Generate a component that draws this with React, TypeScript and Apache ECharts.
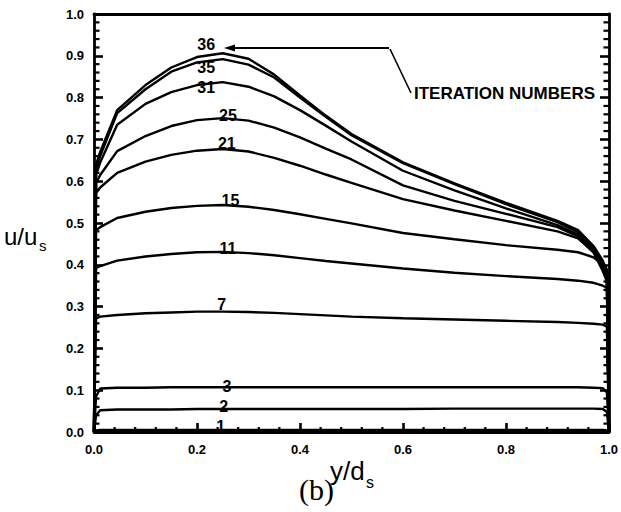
import React, { useEffect, useRef } from "react";
import * as echarts from "echarts";

// Sample positions across the channel (y/d_s)
const Y_POS = [0, 0.004, 0.012, 0.045, 0.1, 0.15, 0.2, 0.25, 0.3, 0.35, 0.4, 0.45, 0.5, 0.6, 0.7, 0.8, 0.9, 0.94, 0.97, 0.988, 0.996, 1];

// Velocity profiles u/u_s after each iteration
const U_IT36 = [0, 0.64, 0.67, 0.77, 0.83, 0.872, 0.897, 0.906, 0.893, 0.855, 0.805, 0.757, 0.713, 0.645, 0.595, 0.548, 0.505, 0.483, 0.445, 0.41, 0.385, 0];
const U_IT35 = [0, 0.63, 0.66, 0.763, 0.82, 0.862, 0.884, 0.892, 0.879, 0.848, 0.8, 0.754, 0.71, 0.643, 0.593, 0.545, 0.502, 0.478, 0.44, 0.405, 0.38, 0];
const U_IT31 = [0, 0.615, 0.645, 0.735, 0.785, 0.813, 0.83, 0.837, 0.826, 0.803, 0.77, 0.733, 0.695, 0.625, 0.578, 0.535, 0.495, 0.472, 0.435, 0.395, 0.37, 0];
const U_IT25 = [0, 0.595, 0.615, 0.672, 0.708, 0.732, 0.746, 0.751, 0.745, 0.728, 0.705, 0.678, 0.652, 0.59, 0.553, 0.522, 0.49, 0.468, 0.43, 0.39, 0.365, 0];
const U_IT21 = [0, 0.572, 0.585, 0.62, 0.647, 0.663, 0.673, 0.677, 0.671, 0.656, 0.637, 0.616, 0.596, 0.557, 0.53, 0.505, 0.48, 0.463, 0.43, 0.385, 0.36, 0];
const U_IT15 = [0, 0.483, 0.49, 0.512, 0.527, 0.536, 0.541, 0.543, 0.539, 0.531, 0.521, 0.51, 0.499, 0.476, 0.461, 0.447, 0.436, 0.43, 0.418, 0.4, 0.39, 0];
const U_IT11 = [0, 0.392, 0.397, 0.41, 0.42, 0.426, 0.43, 0.431, 0.428, 0.423, 0.416, 0.409, 0.403, 0.391, 0.381, 0.373, 0.366, 0.362, 0.357, 0.35, 0.345, 0];
const U_IT7 = [0, 0.272, 0.276, 0.28, 0.284, 0.286, 0.288, 0.288, 0.287, 0.285, 0.282, 0.279, 0.276, 0.272, 0.269, 0.266, 0.263, 0.261, 0.259, 0.257, 0.252, 0];
const U_IT3 = [0, 0.085, 0.104, 0.106, 0.106, 0.107, 0.107, 0.107, 0.107, 0.107, 0.107, 0.107, 0.107, 0.107, 0.107, 0.107, 0.107, 0.107, 0.106, 0.105, 0.095, 0];
const U_IT2 = [0, 0.04, 0.052, 0.054, 0.054, 0.054, 0.055, 0.055, 0.055, 0.055, 0.055, 0.055, 0.055, 0.055, 0.056, 0.056, 0.056, 0.056, 0.056, 0.055, 0.048, 0];
const U_IT1 = [0, 0.004, 0.005, 0.005, 0.005, 0.005, 0.005, 0.005, 0.005, 0.005, 0.005, 0.005, 0.005, 0.005, 0.005, 0.005, 0.005, 0.005, 0.005, 0.005, 0.004, 0];

const PROFILES = [U_IT36, U_IT35, U_IT31, U_IT25, U_IT21, U_IT15, U_IT11, U_IT7, U_IT3, U_IT2, U_IT1];

// Iteration-number tags written beside the profiles
const TAG_TEXT = ["36", "35", "31", "25", "21", "15", "11", "7", "3", "2", "1"];
const TAG_X = [0.218, 0.218, 0.218, 0.26, 0.258, 0.265, 0.26, 0.248, 0.258, 0.252, 0.246];
const TAG_Y = [0.926, 0.873, 0.823, 0.756, 0.689, 0.553, 0.44, 0.304, 0.11, 0.06, 0.014];

// Axis ranges and tick spacing
const AXIS_MIN = 0;
const AXIS_MAX = 1;
const X_MAJOR = 0.2;
const Y_MAJOR = 0.1;
const X_MINOR_DIVS = 5;
const Y_MINOR_DIVS = 5;

const FONT = "Liberation Sans, Arial, Helvetica, sans-serif";

export default function App() {
  const ref = useRef<HTMLDivElement>(null);

  useEffect(() => {
    if (!ref.current) return;
    const chart = echarts.init(ref.current, null, { renderer: "svg" });

    const profileSeries = PROFILES.map((vals, i) => ({
      type: "line",
      name: TAG_TEXT[i],
      data: Y_POS.map((x, k) => [x, vals[k]]),
      showSymbol: false,
      symbol: "none",
      clip: false,
      lineStyle: { color: "#000", width: 2.4 },
      z: 3,
    }));

    const tagSeries = {
      type: "custom",
      coordinateSystem: "cartesian2d",
      data: TAG_X.map((x, i) => [x, TAG_Y[i]]),
      encode: { x: 0, y: 1 },
      clip: false,
      z: 4,
      renderItem: (params: any, api: any) => {
        const p = api.coord([api.value(0), api.value(1)]);
        return {
          type: "text",
          x: p[0],
          y: p[1],
          style: {
            text: TAG_TEXT[params.dataIndex],
            fill: "#000",
            font: `bold 16px ${FONT}`,
            align: "center",
            verticalAlign: "middle",
          },
        };
      },
    };

    // fine ticks on the frame, placed through the axis scales
    const tickSeries = {
      type: "custom",
      coordinateSystem: "cartesian2d",
      data: [[AXIS_MIN, AXIS_MIN]],
      encode: { x: 0, y: 1 },
      clip: false,
      silent: true,
      z: 5,
      renderItem: (params: any, api: any) => {
        const children: any[] = [];
        const style = { stroke: "#000", lineWidth: 2.2 };
        const nx = Math.round((AXIS_MAX - AXIS_MIN) / X_MAJOR) * X_MINOR_DIVS;
        for (let i = 1; i < nx; i++) {
          if (i % X_MINOR_DIVS === 0) continue;
          const p = api.coord([AXIS_MIN + (i * X_MAJOR) / X_MINOR_DIVS, AXIS_MIN]);
          children.push({ type: "line", shape: { x1: p[0], y1: p[1], x2: p[0], y2: p[1] - 5 }, style });
        }
        const ny = Math.round((AXIS_MAX - AXIS_MIN) / Y_MAJOR) * Y_MINOR_DIVS;
        for (let i = 1; i < ny; i++) {
          if (i % Y_MINOR_DIVS === 0) continue;
          const v = AXIS_MIN + (i * Y_MAJOR) / Y_MINOR_DIVS;
          const l = api.coord([AXIS_MIN, v]);
          const r = api.coord([AXIS_MAX, v]);
          children.push({ type: "line", shape: { x1: l[0], y1: l[1], x2: l[0] + 5.5, y2: l[1] }, style });
          children.push({ type: "line", shape: { x1: r[0], y1: r[1], x2: r[0] - 5.5, y2: r[1] }, style });
        }
        return { type: "group", children };
      },
    };

    const frameLine = { show: true, onZero: false, lineStyle: { color: "#000", width: 2.8 } };
    const majorTick = { show: true, inside: true, length: 9, lineStyle: { color: "#000", width: 2.6 } };
    const tickLabel = {
      formatter: (v: number) => v.toFixed(1),
      fontSize: 13,
      fontWeight: "bold",
      fontFamily: FONT,
      color: "#000",
    };

    chart.setOption({
      animation: false,
      backgroundColor: "#fff",
      grid: { left: 94, right: 7, top: 14, bottom: 80, containLabel: false },
      xAxis: [
        {
          type: "value",
          min: AXIS_MIN,
          max: AXIS_MAX,
          interval: X_MAJOR,
          position: "bottom",
          axisLine: frameLine,
          axisTick: majorTick,
          splitLine: { show: false },
          axisLabel: { ...tickLabel, margin: 11 },
        },
        {
          type: "value",
          min: AXIS_MIN,
          max: AXIS_MAX,
          position: "top",
          axisLine: frameLine,
          axisTick: { show: false },
          axisLabel: { show: false },
          splitLine: { show: false },
        },
      ],
      yAxis: [
        {
          type: "value",
          min: AXIS_MIN,
          max: AXIS_MAX,
          interval: Y_MAJOR,
          position: "left",
          axisLine: frameLine,
          axisTick: majorTick,
          splitLine: { show: false },
          axisLabel: { ...tickLabel, margin: 10 },
        },
        {
          type: "value",
          min: AXIS_MIN,
          max: AXIS_MAX,
          interval: Y_MAJOR,
          position: "right",
          axisLine: frameLine,
          axisTick: majorTick,
          splitLine: { show: false },
          axisLabel: { show: false },
        },
      ],
      series: [...profileSeries, tagSeries, tickSeries],
      graphic: [
        // y-axis title u/u_s
        { type: "text", left: 4, top: 224, style: { text: "u/u", font: `24px ${FONT}`, fill: "#000" } },
        { type: "text", left: 39, top: 238, style: { text: "s", font: `15px ${FONT}`, fill: "#000" } },
        // x-axis title y/d_s
        { type: "text", left: 330, top: 458, style: { text: "y/d", font: `26px ${FONT}`, fill: "#000" } },
        { type: "text", left: 366, top: 474, style: { text: "s", font: `16px ${FONT}`, fill: "#000" } },
        // panel tag
        { type: "text", left: 299, top: 474, style: { text: "(b)", font: `30px Liberation Serif, Times New Roman, serif`, fill: "#000" } },
        // annotation pointer
        { type: "line", shape: { x1: 232, y1: 48, x2: 389, y2: 48 }, style: { stroke: "#000", lineWidth: 2.2 } },
        { type: "polygon", shape: { points: [[224, 48], [235, 44.5], [235, 51.5]] }, style: { fill: "#000" } },
        { type: "line", shape: { x1: 390, y1: 49, x2: 411, y2: 93 }, style: { stroke: "#000", lineWidth: 1.6 } },
        {
          type: "text",
          left: 414,
          top: 85,
          style: { text: "ITERATION NUMBERS", font: `bold 17px ${FONT}`, fill: "#000" },
        },
      ],
    });

    return () => chart.dispose();
  }, []);

  return (
    <div
      ref={ref}
      style={{ position: "absolute", left: 0, top: 0, width: 621, height: 512, background: "#fff" }}
    />
  );
}
